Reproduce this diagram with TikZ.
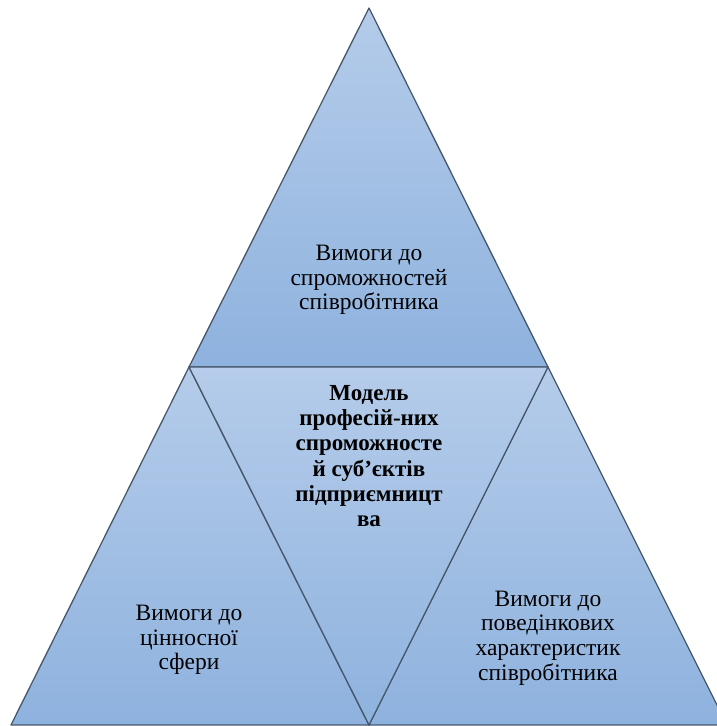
\documentclass[tikz,border=0pt]{standalone}
\usepackage{fontspec}
\setmainfont{Liberation Serif}
\definecolor{facetop}{RGB}{181,204,234}
\definecolor{facebottom}{RGB}{142,178,222}
\definecolor{edgeline}{RGB}{72,88,108}
\begin{document}
\begin{tikzpicture}[x=1pt,y=-1pt,
  facet/.style={top color=facetop,bottom color=facebottom,draw=edgeline,line width=1.3pt,line join=round},
  label/.style={align=center,font=\fontsize{23.5}{24.6}\selectfont,text=black,inner sep=0pt}]
\useasboundingbox (0,0) rectangle (717,726);
\clip (0,0) rectangle (717,726);
% corner points of the subdivided triangle
\coordinate (apex) at (369,8);
\coordinate (ml) at (189,367);
\coordinate (mr) at (548,367);
\coordinate (bl) at (11,725);
\coordinate (bm) at (369,725);
\coordinate (br) at (727,725);
% four facets
\path[facet] (apex) -- (mr) -- (ml) -- cycle;
\path[facet] (ml) -- (bm) -- (bl) -- cycle;
\path[facet] (mr) -- (br) -- (bm) -- cycle;
\path[facet] (ml) -- (mr) -- (bm) -- cycle;
% labels
\node[label] (topl) at (369,280) {Вимоги до\\спроможностей\\співробітника};
\node[label] (leftl) at (189,640) {Вимоги до\\цінносної\\сфери};
\node[label] (rightl) at (548,638) {Вимоги до\\поведінкових\\характеристик\\співробітника};
\node[label,font=\bfseries\fontsize{23}{25.2}\selectfont] (centerl) at (369,456)
  {Модель\\професій-них\\спроможносте\\й суб’єктів\\підприємницт\\ва};
\end{tikzpicture}
\end{document}
